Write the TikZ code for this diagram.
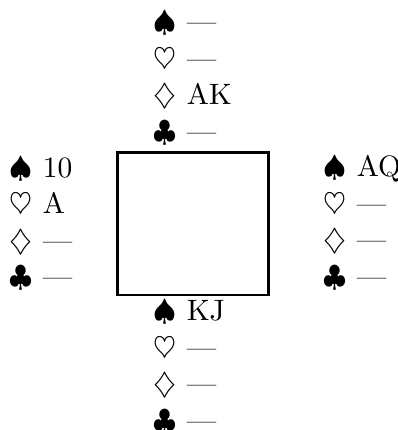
\documentclass[tikz,border=0pt]{standalone}
\tikzset{
  row/.style={anchor=base west, inner sep=0pt, font=\fontsize{10}{12}\selectfont},
  tablebox/.style={draw, line width=1pt, inner sep=0pt, minimum width=51.2pt, minimum height=48.3pt}
}
\newcommand\handrows[7]{%
  \node[row] (#1s) at (#2,#3) {$\spadesuit$ #4};
  \node[row] (#1h) at (#2,#3+36.5) {$\heartsuit$ #5};
  \node[row] (#1d) at (#2,#3+73) {$\diamondsuit$ #6};
  \node[row] (#1c) at (#2,#3+109.5) {$\clubsuit$ #7};
}
\begin{document}
\begin{tikzpicture}[x=0.339pt,y=-0.339pt]
\useasboundingbox (0,0) rectangle (398,430);
\node[tablebox] (table) at (193,223.75) {};
\handrows{n}{153.4}{31.5}{---}{---}{AK}{---}
\handrows{w}{9.4}{177}{10}{A}{---}{---}
\handrows{e}{323.4}{176.5}{AQ}{---}{---}{---}
\handrows{s}{153.4}{320.5}{KJ}{---}{---}{---}
\end{tikzpicture}
\end{document}
